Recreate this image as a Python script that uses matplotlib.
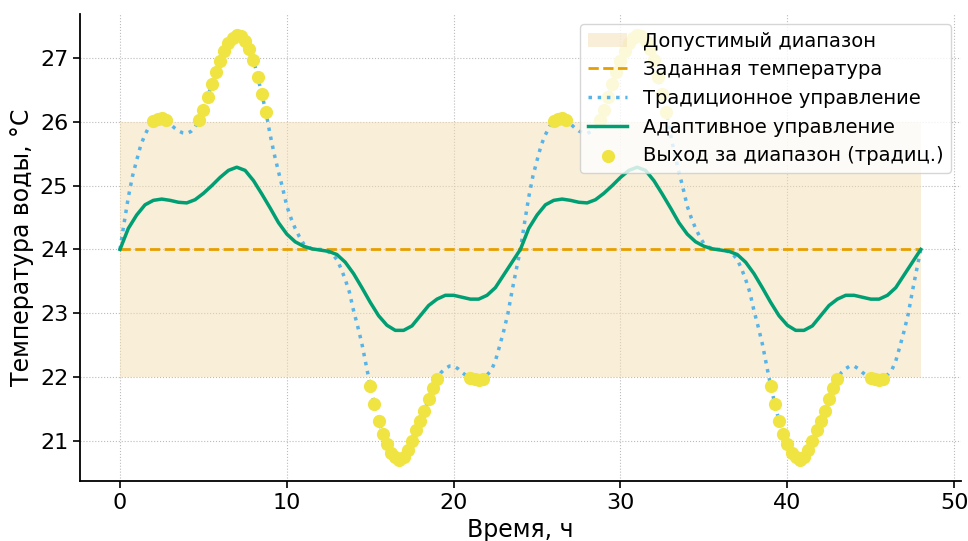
import numpy as np
import matplotlib as mpl
mpl.use('agg')
import matplotlib.pyplot as plt

##--##--  data  --##--##
# traditional control, every 0.25 h
t_trad = np.arange(0, 48.01, 0.25)
trad_day1 = [24.00, 24.42, 24.82, 25.15, 25.40, 25.64, 25.80, 25.93, 26.01, 26.05,
             26.06, 26.03, 25.97, 25.91, 25.86, 25.83, 25.82, 25.85, 25.92, 26.03,
             26.18, 26.39, 26.59, 26.78, 26.96, 27.12, 27.24, 27.32, 27.36, 27.35,
             27.27, 27.15, 26.98, 26.71, 26.44, 26.15, 25.80, 25.49, 25.22, 24.96,
             24.68, 24.49, 24.33, 24.20, 24.09, 24.04, 24.01, 24.00, 24.00,
             23.99, 23.96, 23.92, 23.84, 23.70, 23.53, 23.33, 23.04, 22.79, 22.52,
             22.19, 21.86, 21.58, 21.31, 21.10, 20.95, 20.81, 20.74, 20.70, 20.74,
             20.85, 21.00, 21.16, 21.31, 21.47, 21.65, 21.83, 21.97, 22.07, 22.13,
             22.17, 22.17, 22.13, 22.07, 22.02, 21.99, 21.96, 21.95, 21.97, 22.03,
             22.10, 22.25, 22.48, 22.72, 22.99, 23.35, 23.68, 24.00]
trad_day2 = [24.42, 24.82, 25.15, 25.40, 25.64, 25.80, 25.93, 26.01, 26.05,
             26.06, 26.03, 25.97, 25.91, 25.86, 25.83, 25.82, 25.85, 25.92, 26.03,
             26.18, 26.39, 26.59, 26.78, 26.96, 27.12, 27.24, 27.32, 27.36, 27.35,
             27.27, 27.15, 26.98, 26.71, 26.44, 26.15, 25.80, 25.49, 25.22, 24.96,
             24.68, 24.49, 24.33, 24.20, 24.09, 24.04, 24.01, 24.00, 24.00,
             23.99, 23.96, 23.92, 23.84, 23.70, 23.53, 23.33, 23.04, 22.79, 22.52,
             22.19, 21.86, 21.58, 21.31, 21.10, 20.95, 20.81, 20.74, 20.70, 20.74,
             20.85, 21.00, 21.16, 21.31, 21.47, 21.65, 21.83, 21.97, 22.07, 22.13,
             22.17, 22.17, 22.13, 22.07, 22.02, 21.99, 21.96, 21.95, 21.97, 22.03,
             22.10, 22.25, 22.48, 22.72, 22.99, 23.35, 23.68, 24.00]
trad = np.array(trad_day1 + trad_day2)

# adaptive control, every 0.5 h
t_adapt = np.arange(0, 48.01, 0.5)
adapt_day1 = [24.00, 24.33, 24.54, 24.70, 24.77, 24.79, 24.77, 24.74, 24.73, 24.78,
              24.88, 25.00, 25.13, 25.24, 25.29, 25.24, 25.08, 24.87, 24.65, 24.42,
              24.24, 24.12, 24.05, 24.01, 23.99, 23.97, 23.92, 23.80, 23.62, 23.40,
              23.17, 22.96, 22.81, 22.73, 22.73, 22.80, 22.96, 23.12, 23.22, 23.28,
              23.28, 23.25, 23.22, 23.22, 23.28, 23.40, 23.60, 23.80, 24.00]
adapt_day2 = [24.33, 24.54, 24.70, 24.77, 24.79, 24.77, 24.74, 24.73, 24.78,
              24.88, 25.00, 25.13, 25.24, 25.29, 25.24, 25.08, 24.87, 24.65, 24.42,
              24.24, 24.12, 24.05, 24.01, 23.99, 23.97, 23.92, 23.80, 23.62, 23.40,
              23.17, 22.96, 22.81, 22.73, 22.73, 22.80, 22.96, 23.12, 23.22, 23.28,
              23.28, 23.25, 23.22, 23.22, 23.28, 23.40, 23.60, 23.80, 24.00]
adapt = np.array(adapt_day1 + adapt_day2)

setpoint = 24.0
band_low, band_high = 22.0, 26.0

out = (trad > band_high) | (trad < band_low)


##--##--  figure  --##--##
fig = plt.figure(figsize=(9.68, 5.41), dpi=100)
ax = plt.axes([0.0826, 0.111, 0.910, 0.863])

ax.fill_between(t_trad, band_low, band_high, color='#F5DEB3', alpha=0.5, linewidth=0,
                label='Допустимый диапазон')
ax.plot(t_trad, np.full_like(t_trad, setpoint), color='#E69F00', linestyle='--', linewidth=2,
        label='Заданная температура')
ax.plot(t_trad, trad, color='#56B4E9', linestyle=':', linewidth=2.5,
        label='Традиционное управление')
ax.plot(t_adapt, adapt, color='#009E73', linestyle='-', linewidth=2.5,
        label='Адаптивное управление')
ax.scatter(t_trad[out], trad[out], s=72, color='#F0E442', zorder=3,
           label='Выход за диапазон (традиц.)')

ax.set_xlabel('Время, ч', size=17)
ax.set_ylabel('Температура воды, °C', size=17)
ax.set_xticks([0, 10, 20, 30, 40, 50])
ax.set_yticks([21, 22, 23, 24, 25, 26, 27])
ax.tick_params(axis='both', length=5, width=1.2, labelsize=16)
ax.spines['top'].set_visible(False)
ax.spines['right'].set_visible(False)
ax.spines['left'].set_linewidth(1.3)
ax.spines['bottom'].set_linewidth(1.3)
ax.grid(True, linestyle=':', color='#bbbbbb', linewidth=0.8)
ax.set_axisbelow(True)

ax.legend(loc='upper right', fontsize=14)

fig.savefig('out.png', dpi=100)
